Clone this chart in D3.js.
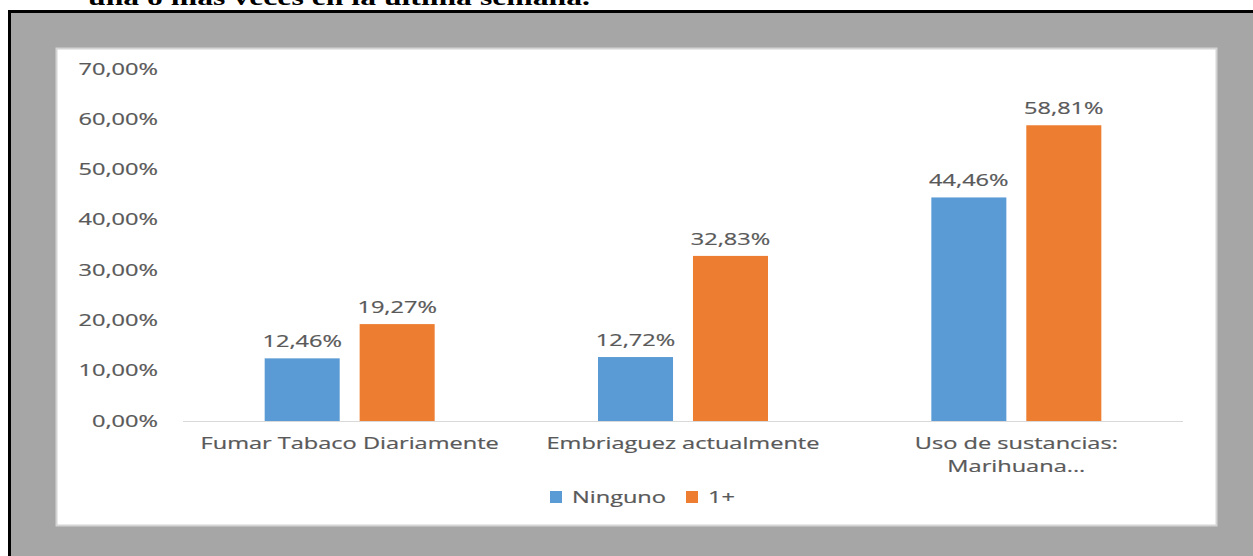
<!DOCTYPE html>
<html>
<head>
<meta charset="utf-8">
<script src="https://cdn.jsdelivr.net/npm/d3@7"></script>
<style>
  html, body { margin: 0; padding: 0; background: #fff; }
  svg { display: block; }
</style>
</head>
<body>
<svg id="chart" width="1253" height="556"></svg>
<script>
// ---- data ----
const categories = ["Fumar Tabaco Diariamente", "Embriaguez actualmente", "Uso de sustancias: Marihuana..."];
const categoryLines = [["Fumar Tabaco Diariamente"], ["Embriaguez actualmente"], ["Uso de sustancias:", "Marihuana..."]];
const seriesNames = ["Ninguno", "1+"];
const ninguno = [12.46, 12.72, 44.46];
const unoMas = [19.27, 32.83, 58.81];
const yTicks = [0, 10, 20, 30, 40, 50, 60, 70];
const titleText = "una o más veces en la última semana.";

// ---- style ----
const colors = ["#5b9bd5", "#ed7d31"];
const textColor = "#595959";
const fontFam = "'Open Sans', 'Liberation Sans', sans-serif";
const SX = 1.52; // horizontal stretch of the reference's text

const svg = d3.select("#chart");
const W = 1253, H = 556;

// frame
svg.append("rect").attr("x", 9.5).attr("y", 11.5).attr("width", W).attr("height", H)
  .attr("fill", "#a6a6a6").attr("stroke", "#000").attr("stroke-width", 3);

// partial title (cut at top, as in the reference)
svg.append("text").attr("x", 88).attr("y", 5)
  .attr("font-family", "'Liberation Serif', 'Times New Roman', serif")
  .attr("font-weight", "bold").attr("font-size", 24)
  .attr("textLength", 502).attr("lengthAdjust", "spacingAndGlyphs")
  .attr("fill", "#000").text(titleText);

// chart area
svg.append("rect").attr("x", 56.5).attr("y", 48.5).attr("width", 1160).attr("height", 477)
  .attr("fill", "#fff").attr("stroke", "#d4d4d4").attr("stroke-width", 2);

const x0 = d3.scaleBand().domain(categories).range([183, 1183]).paddingInner(0).paddingOuter(0);
const x1 = d3.scaleBand().domain(seriesNames).paddingInner(0.21).paddingOuter(0);
const y = d3.scaleLinear().domain([0, 70]).range([421, 69]);

const loc = d3.formatLocale({decimal: ",", thousands: ".", grouping: [3], currency: ["", "€"]});
const f2 = loc.format(".2f");

function stretchedText(g, xx, yy, txt, anchor, size) {
  return g.append("text")
    .attr("transform", `translate(${xx},${yy}) scale(${SX},1)`)
    .attr("text-anchor", anchor)
    .attr("font-family", fontFam).attr("font-size", size)
    .attr("fill", textColor).attr("stroke", textColor).attr("stroke-width", 0.2)
    .text(txt);
}

// y axis labels
const yAxis = svg.append("g");
yTicks.forEach(t => {
  stretchedText(yAxis, 158, y(t) + 5.5, f2(t) + "%", "end", 15.5);
});

// baseline
svg.append("line").attr("x1", x0.range()[0]).attr("x2", x0.range()[1])
  .attr("y1", y(0) + 0.5).attr("y2", y(0) + 0.5).attr("stroke", "#d9d9d9").attr("stroke-width", 1);

// bars
const data = categories.map((c, i) => ({cat: c, vals: [ninguno[i], unoMas[i]]}));
const groups = svg.append("g").selectAll("g").data(data).join("g")
  .attr("transform", d => `translate(${x0(d.cat)},0)`);

groups.each(function(d) {
  const c = x0.bandwidth() / 2;
  x1.range([c - 85, c + 85]);
  const g = d3.select(this);
  d.vals.forEach((v, j) => {
    const s = seriesNames[j];
    g.append("rect").attr("x", x1(s)).attr("width", x1.bandwidth())
      .attr("y", y(v)).attr("height", y(0) - y(v)).attr("fill", colors[j]);
    stretchedText(g, x1(s) + x1.bandwidth() / 2, y(v) - 11, f2(v) + "%", "middle", 15.5);
  });
});

// category labels
categories.forEach((c, i) => {
  categoryLines[i].forEach((line, k) => {
    stretchedText(svg, x0(c) + x0.bandwidth() / 2, 449 + k * 23, line, "middle", 15.5);
  });
});

// legend
const leg = svg.append("g");
const legX = [550, 686];
seriesNames.forEach((s, j) => {
  leg.append("rect").attr("x", legX[j]).attr("y", 491).attr("width", 12).attr("height", 12).attr("fill", colors[j]);
  stretchedText(leg, legX[j] + 22, 503, s, "start", 15.5);
});
</script>
</body>
</html>
